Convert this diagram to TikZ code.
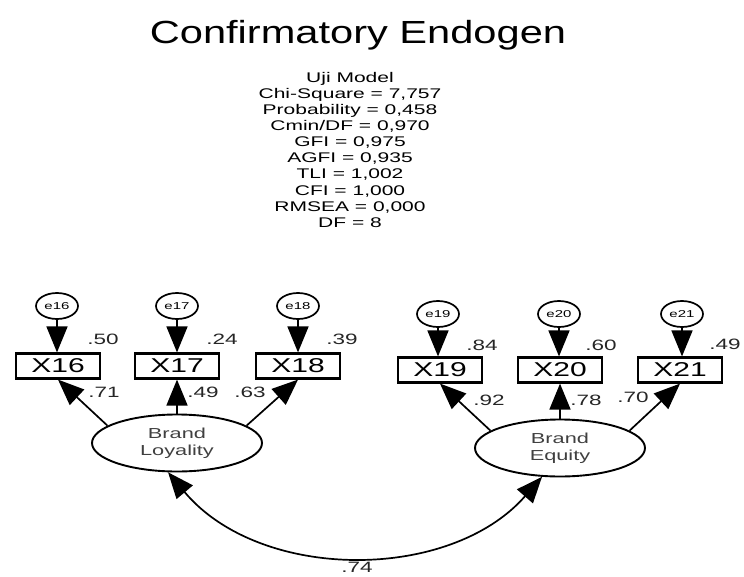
\documentclass[tikz,border=0pt]{standalone}
\usepackage{fontspec}
\setmainfont[FakeStretch=1.3]{Liberation Sans}
\newfontfamily\widefont[FakeStretch=1.5]{Liberation Sans}
\usetikzlibrary{arrows.meta,shapes.geometric}
\begin{document}
\begin{tikzpicture}[x=1pt,y=-1pt,
  errc/.style={draw,line width=1.7pt,ellipse,minimum width=42pt,minimum height=26pt,inner sep=0pt,font=\widefont\fontsize{10}{10}\selectfont},
  obs/.style={draw,line width=2.2pt,rectangle,minimum width=84pt,minimum height=25pt,inner sep=0pt,font=\widefont\fontsize{20}{20}\selectfont},
  lat/.style={draw,line width=1.9pt,ellipse,minimum width=170pt,minimum height=57pt,inner sep=0pt,align=center,text=black!75,font=\widefont\fontsize{14.5}{17}\selectfont},
  coef/.style={font=\widefont\fontsize{15}{15}\selectfont,text=black!85,inner sep=0pt},
  arr/.style={line width=1.7pt,-{Triangle[length=26pt,width=21pt]}},
  biarr/.style={line width=1.7pt,{Triangle[length=26pt,width=21pt]}-{Triangle[length=26pt,width=21pt]}},
]
\useasboundingbox (0,0) rectangle (744,576);
\node[font=\fontsize{32}{32}\selectfont,anchor=base,inner sep=0pt] (title) at (358,43) {Confirmatory Endogen};
\node[align=center,font=\widefont\fontsize{14}{16.1}\selectfont,inner sep=0pt,anchor=north] (stats) at (350,72) {Uji Model\\Chi-Square = 7,757\\Probability = 0,458\\Cmin/DF = 0,970\\GFI = 0,975\\AGFI = 0,935\\TLI = 1,002\\CFI = 1,000\\RMSEA = 0,000\\DF = 8};

\node[errc] (e16) at (57,306) {e16};
\node[errc] (e17) at (177,306) {e17};
\node[errc] (e18) at (298,306) {e18};
\node[errc] (e19) at (438,314) {e19};
\node[errc] (e20) at (559,314) {e20};
\node[errc] (e21) at (682,314) {e21};

\node[obs] (X16) at (58,366) {X16};
\node[obs] (X17) at (177,366) {X17};
\node[obs] (X18) at (298,366) {X18};
\node[obs] (X19) at (440,370) {X19};
\node[obs] (X20) at (560,370) {X20};
\node[obs] (X21) at (680,370) {X21};

\node[lat] (L) at (177,443) {Brand\\Loyality};
\node[lat] (E) at (560,448) {Brand\\Equity};

\draw[arr] (e16.south) -- (e16.south |- X16.north);
\draw[arr] (e17.south) -- (e17.south |- X17.north);
\draw[arr] (e18.south) -- (e18.south |- X18.north);
\draw[arr] (e19.south) -- (e19.south |- X19.north);
\draw[arr] (e20.south) -- (e20.south |- X20.north);
\draw[arr] (e21.south) -- (e21.south |- X21.north);

\draw[arr] (L.166) -- (X16.south);
\draw[arr] (L.north) -- (X17.south);
\draw[arr] (L.14) -- (X18.south);
\draw[arr] (E.166) -- (X19.south);
\draw[arr] (E.north) -- (X20.south);
\draw[arr] (E.14) -- (X21.south);

\draw[biarr] (L.253) .. controls (260,582) and (450,582) .. (E.238);

\node[coef] (c50) at (103,339) {.50};
\node[coef] (c24) at (222,339) {.24};
\node[coef] (c39) at (342,339) {.39};
\node[coef] (c71) at (104,392) {.71};
\node[coef] (c49a) at (203,392) {.49};
\node[coef] (c63) at (250,392) {.63};
\node[coef] (c84) at (482,345) {.84};
\node[coef] (c60) at (601,345) {.60};
\node[coef] (c49b) at (725,344) {.49};
\node[coef] (c92) at (489,400) {.92};
\node[coef] (c78) at (586,400) {.78};
\node[coef] (c70) at (633,397) {.70};
\node[coef] (c74) at (357,567) {.74};
\end{tikzpicture}
\end{document}
